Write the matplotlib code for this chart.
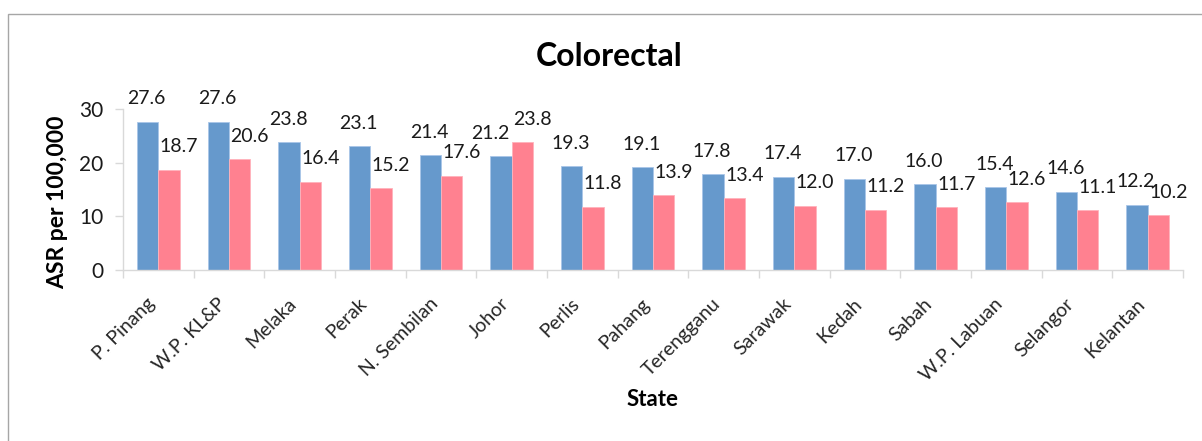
import matplotlib
matplotlib.use("Agg")
import matplotlib.pyplot as plt
import numpy as np
from matplotlib.patches import Rectangle

states = ["P. Pinang", "W.P. KL&P", "Melaka", "Perak", "N. Sembilan", "Johor",
          "Perlis", "Pahang", "Terengganu", "Sarawak", "Kedah", "Sabah",
          "W.P. Labuan", "Selangor", "Kelantan"]
series_a = [27.6, 27.6, 23.8, 23.1, 21.4, 21.2, 19.3, 19.1, 17.8, 17.4, 17.0, 16.0, 15.4, 14.6, 12.2]
series_b = [18.7, 20.6, 16.4, 15.2, 17.6, 23.8, 11.8, 13.9, 13.4, 12.0, 11.2, 11.7, 12.6, 11.1, 10.2]
yticks = [0, 10, 20, 30]

plt.rcParams['font.family'] = ['Lato', 'DejaVu Sans']

W, H = 1202, 441
fig = plt.figure(figsize=(W / 100, H / 100), dpi=100)
ax = fig.add_axes([123 / W, 1 - 270 / H, (1183 - 123) / W, (270 - 109) / H])

x = np.arange(len(states))
bw = 0.3
blue = "#6699CC"
pink = "#FF8190"
ax.bar(x - bw / 2, series_a, bw, color=blue, edgecolor="#A9C6E8", linewidth=0.6)
ax.bar(x + bw / 2, series_b, bw, color=pink, edgecolor="#FFB3BC", linewidth=0.6)

# small horizontal nudges (pixels) for crowded labels, like Excel's placement
nudge_a = {5: -10}

for i, (xi, v) in enumerate(zip(x, series_a)):
    ax.annotate(f"{v:.1f}", (xi - bw / 2, v), xytext=(nudge_a.get(i, 0) - 1, 23),
                textcoords="offset pixels", ha="center", va="center", fontsize=14, color="#1a1a1a")
for xi, v in zip(x, series_b):
    ax.annotate(f"{v:.1f}", (xi + bw / 2, v), xytext=(10, 23), textcoords="offset pixels",
                ha="center", va="center", fontsize=14, color="#1a1a1a")

ax.set_xlim(-0.5, len(states) - 0.5)
ax.set_ylim(0, 30)
ax.set_yticks(yticks)
ax.set_yticklabels([str(t) for t in yticks], fontsize=15, color="#1a1a1a")
ax.set_xticks(x)
ax.set_xticklabels(states, rotation=45, ha="right", va="top", fontsize=14, color="#262626",
                   rotation_mode="default")
ax.set_xticks(np.arange(len(states) + 1) - 0.5, minor=True)
ax.tick_params(axis="x", which="major", length=0, pad=18)
ax.tick_params(axis="x", which="minor", length=6, color="#D9D9D9", width=1)
ax.tick_params(axis="y", length=6, color="#D9D9D9", width=1, pad=8)

for s in ["top", "right"]:
    ax.spines[s].set_visible(False)
for s in ["left", "bottom"]:
    ax.spines[s].set_color("#D9D9D9")
    ax.spines[s].set_linewidth(1)

fig.text(609 / W, 1 - 57 / H, "Colorectal", ha="center", va="center", fontsize=23, fontweight="bold")
fig.text(58 / W, 1 - 202 / H, "ASR per 100,000", ha="center", va="center", rotation=90,
         fontsize=16.5, fontweight="bold")
fig.text(653 / W, 1 - 400 / H, "State", ha="center", va="center", fontsize=16, fontweight="bold")

fig.patches.append(Rectangle((8 / W, -0.2), 1.2, 1 - 14 / H + 0.2, transform=fig.transFigure,
                             fill=False, edgecolor="#A6A6A6", linewidth=1))

fig.savefig("out.png", dpi=100)
